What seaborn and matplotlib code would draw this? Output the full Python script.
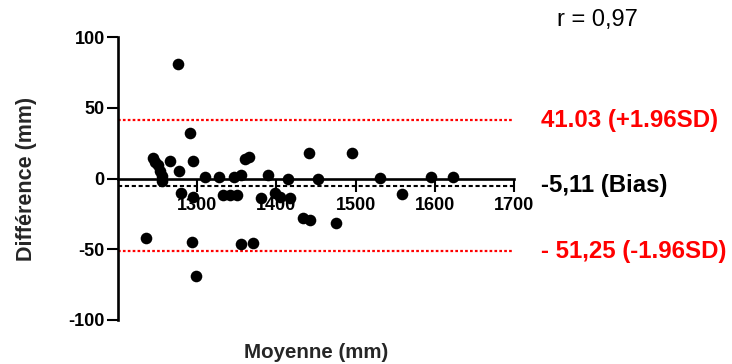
import numpy as np
import pandas as pd
import matplotlib
matplotlib.use("Agg")
import matplotlib.pyplot as plt
import seaborn as sns

# ---- data ----
moyenne = [1276, 1291, 1244, 1247, 1251, 1253, 1255, 1256, 1266, 1277,
           1295, 1280, 1295, 1235, 1294, 1299, 1310, 1327, 1346, 1355,
           1360, 1366, 1390, 1415, 1452, 1441, 1496, 1531, 1595, 1623,
           1559, 1333, 1341, 1350, 1381, 1398, 1405, 1417, 1433, 1443,
           1475, 1355, 1371]
difference = [80.7, 32.4, 14.5, 11.7, 9.8, 5.5, 1.5, -2.0, 12.6, 5.0,
              12.6, -10.2, -12.8, -41.8, -44.6, -68.9, 1.3, 1.3, 1.3, 2.5,
              14.0, 15.4, 2.5, 0.0, 0.0, 17.8, 17.8, 0.6, 0.8, 0.8,
              -11.2, -11.7, -11.7, -11.7, -14.0, -10.5, -12.8, -14.0, -28.0, -29.5,
              -31.2, -46.3, -45.4]
bias = -5.11
upper_loa = 41.03
lower_loa = -51.25
x_ticks = [1300, 1400, 1500, 1600, 1700]
y_ticks = [-100, -50, 0, 50, 100]
label_upper = "41.03 (+1.96SD)"
label_bias = "-5,11 (Bias)"
label_lower = "- 51,25 (-1.96SD)"
label_r = "r = 0,97"

df = pd.DataFrame({"Moyenne": moyenne, "Difference": difference})

sns.set_style("ticks")
plt.rcParams["font.family"] = ["Liberation Sans", "DejaVu Sans"]

fig = plt.figure(figsize=(7.32, 3.64), dpi=100)
ax = fig.add_axes([118 / 732, 44 / 364, 396 / 732, 283 / 364])

# limit lines
ax.plot([1200, 1700], [upper_loa, upper_loa], color="#ff0000", lw=1.6,
        linestyle=(0, (1.2, 1.0)), zorder=2, clip_on=False)
ax.plot([1200, 1700], [lower_loa, lower_loa], color="#ff0000", lw=1.6,
        linestyle=(0, (1.2, 1.0)), zorder=2, clip_on=False)
ax.plot([1200, 1700], [bias, bias], color="black", lw=1.5,
        linestyle=(0, (2.0, 1.3)), zorder=2, clip_on=False)

sns.scatterplot(data=df, x="Moyenne", y="Difference", color="black",
                s=70, edgecolor="black", linewidth=0, ax=ax, zorder=4,
                clip_on=False)

ax.set_xlim(1200, 1700)
ax.set_ylim(-100, 100)
ax.set_xticks(x_ticks)
ax.set_yticks(y_ticks)
ax.set_xticklabels([str(t) for t in x_ticks])
ax.set_yticklabels([str(t) for t in y_ticks])

ax.spines["top"].set_visible(False)
ax.spines["right"].set_visible(False)
ax.spines["bottom"].set_position(("data", 0))
for sp in ("left", "bottom"):
    ax.spines[sp].set_linewidth(1.9)
    ax.spines[sp].set_color("black")
    ax.spines[sp].set_zorder(3)

ax.tick_params(axis="both", direction="out", width=1.5,
               color="black", labelsize=13, labelcolor="black")
ax.tick_params(axis="y", length=8, pad=1.5)
ax.tick_params(axis="x", length=9.5, pad=4)
for lab in ax.get_xticklabels() + ax.get_yticklabels():
    lab.set_fontweight("bold")

ax.set_xlabel("Moyenne (mm)", fontsize=14.8, fontweight="bold")
ax.set_ylabel("Différence (mm)", fontsize=15.5, fontweight="bold")
ax.xaxis.set_label_coords(0.5, -0.083)
ax.yaxis.set_label_coords(-0.205, 0.5)

trans = matplotlib.transforms.blended_transform_factory(ax.transAxes, ax.transData)
ax.text(1.068, upper_loa, label_upper, transform=trans, color="#ff0000",
        fontsize=17.3, fontweight="bold", va="center", ha="left")
ax.text(1.068, bias, label_bias, transform=trans, color="black",
        fontsize=17.3, fontweight="bold", va="center", ha="left")
ax.text(1.068, lower_loa, label_lower, transform=trans, color="#ff0000",
        fontsize=17.3, fontweight="bold", va="center", ha="left")
ax.text(1.109, 1.06, label_r, transform=ax.transAxes, color="black",
        fontsize=17, va="center", ha="left")

fig.savefig("out.png", dpi=100)
